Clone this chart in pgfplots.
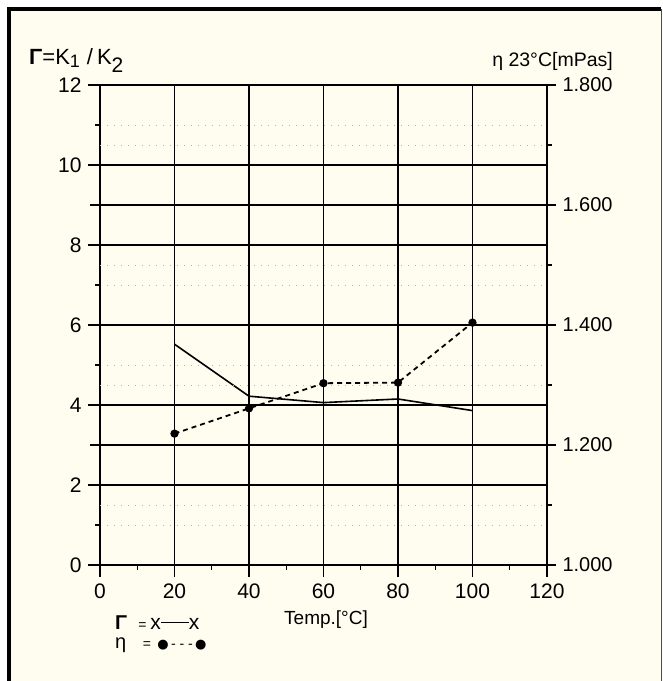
\documentclass[border=0pt]{standalone}
\usepackage{pgfplots}
\pgfplotsset{compat=1.18}
\usepackage{fontspec}
\setmainfont{Liberation Sans}
\newfontfamily\dejavu{DejaVu Sans}
\definecolor{cream}{HTML}{FFFDF0}
\begin{document}
\begin{tikzpicture}[x=1pt,y=1pt]
\useasboundingbox (0,0) rectangle (663,681);
\fill[white] (0,0) rectangle (663,681);
\fill[cream] (11,0) rectangle (661,670);
\fill[black] (7,0) rectangle (11,674);
\fill[black] (7,670) rectangle (661,674);
\draw[black!70,line width=1.2pt] (661.5,0) -- (661.5,672);
\begin{axis}[
  at={(100pt,116pt)}, anchor=south west,
  scale only axis, width=447pt, height=480pt,
  xmin=0, xmax=120, ymin=0, ymax=12,
  xtick={0,20,...,120}, ytick={0,2,...,12},
  minor x tick num=1, minor y tick num=1,
  extra y ticks={3,9}, extra y tick labels={},
  extra y tick style={ymajorgrids=true, major tick length=10pt},
  xmajorgrids=true, ymajorgrids=true, yminorgrids=true,
  major grid style={black, line width=1.1pt},
  minor grid style={black!30, line width=0.7pt, dash pattern=on 1pt off 6pt},
  tick align=outside, tick pos=left,
  major tick length=12pt, minor tick length=5pt,
  every tick/.style={black, line width=1.1pt},
  axis line style={black, line width=1.7pt},
  axis y line*=left, axis x line*=bottom,
  /pgf/number format/assume math mode=true,
  ticklabel style={font=\fontsize{21}{23}\selectfont},
  xticklabel style={yshift=-3pt},
  yticklabel style={xshift=-3pt},
  clip=false,
]
\draw[black, line width=1.7pt] (axis cs:0,12) -- (axis cs:120,12);
\addplot[black, line width=1.6pt, mark=none] coordinates {
(20,5.52) (40,4.22) (60,4.06) (80,4.15) (100,3.86)};
\end{axis}
\begin{axis}[
  at={(100pt,116pt)}, anchor=south west,
  scale only axis, width=447pt, height=480pt,
  xmin=0, xmax=120, ymin=1, ymax=1.8,
  axis x line=none, axis y line*=right,
  ytick={1,1.2,...,1.8}, minor y tick num=1,
  yminorgrids=true,
  minor grid style={black!30, line width=0.7pt, dash pattern=on 1pt off 6pt},
  tick align=outside,
  major tick length=9pt, minor tick length=5pt,
  every tick/.style={black, line width=1.1pt},
  axis line style={black, line width=1.7pt},
  /pgf/number format/.cd, fixed, fixed zerofill, precision=3, assume math mode=true,
  /pgfplots/.cd,
  ticklabel style={font=\fontsize{20}{22}\selectfont},
  yticklabel style={xshift=3pt},
  clip=false,
]
\addplot[black, line width=1.8pt, dash pattern=on 5pt off 4pt, mark=*, mark size=3.2pt, mark options={solid}] coordinates {
(20,1.219) (40,1.261) (60,1.303) (80,1.304) (100,1.404)};
\end{axis}
\node[anchor=west, font=\fontsize{22}{24}\selectfont, inner sep=0pt] at (29,620) {\textbf{Γ}=K\raisebox{-3pt}{\fontsize{18}{19}\selectfont 1}\hspace{7pt}/\hspace{4pt}K\raisebox{-8pt}{\fontsize{21}{22}\selectfont 2}};
\node[anchor=east, font=\fontsize{19.5}{22}\selectfont, inner sep=0pt] at (613,620) {η 23°C[mPas]};
\node[font=\fontsize{19}{21}\selectfont] at (326,61) {Temp.[°C]};
\node[anchor=west, font=\fontsize{20}{22}\selectfont, inner sep=0pt] at (115,58) {\textbf{Γ}\ \ \fontsize{14}{16}\selectfont=\ \fontsize{21}{22}\selectfont x\rule[0.33em]{28pt}{1.2pt}x};
\node[anchor=west, font=\fontsize{20}{22}\selectfont, inner sep=0pt] at (115,36) {η\ \ \ \fontsize{14}{16}\selectfont=\ \,{\dejavu\fontsize{13}{14}\selectfont ●}\,- - -\,{\dejavu\fontsize{13}{14}\selectfont ●}};
\end{tikzpicture}
\end{document}
